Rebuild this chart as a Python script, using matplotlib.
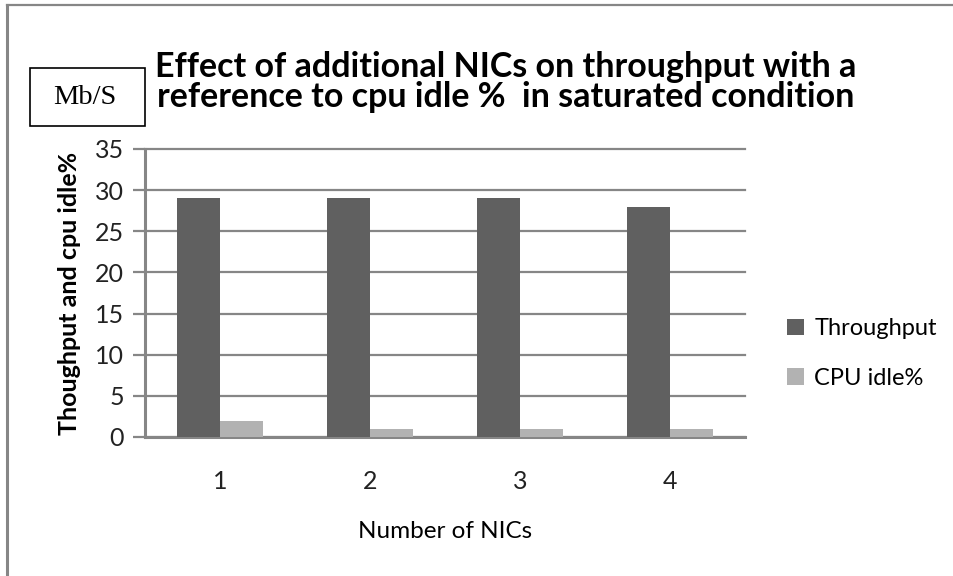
import matplotlib.pyplot as plt
import numpy as np
from matplotlib.lines import Line2D
from matplotlib.patches import Rectangle

plt.rcParams["font.family"] = ["Lato", "DejaVu Sans"]

nics = ["1", "2", "3", "4"]
throughput = [29, 29, 29, 28]
cpu_idle = [2, 1, 1, 1]
yticks = [0, 5, 10, 15, 20, 25, 30, 35]

dark = "#606060"
light = "#b2b2b2"
grid = "#868686"

fig = plt.figure(figsize=(9.54, 5.76), dpi=100)
W, H = 954, 576

# outer frame (left and top lines only)
fig.add_artist(Line2D([7.5 / W, 7.5 / W], [0, 1 - 4.5 / H], transform=fig.transFigure,
                      color=grid, lw=2.2))
fig.add_artist(Line2D([7.5 / W, 1], [1 - 4.5 / H, 1 - 4.5 / H], transform=fig.transFigure,
                      color=grid, lw=1.6))

ax = fig.add_axes([145 / W, (576 - 437) / H, 600 / W, 288 / H])
x = np.arange(len(nics))
w = 0.287
ax.bar(x - w / 2, throughput, w, color=dark, label="Throughput", zorder=3)
ax.bar(x + w / 2, cpu_idle, w, color=light, label="CPU idle%", zorder=3)

ax.set_xlim(-0.5, 3.5)
ax.set_ylim(0, 35)
ax.set_yticks(yticks)
ax.set_xticks(x)
ax.set_xticklabels(nics)
ax.yaxis.grid(True, color=grid, lw=1.6, zorder=0)
for gl in ax.get_ygridlines():
    gl.set_clip_on(False)
for s in ["top", "right"]:
    ax.spines[s].set_visible(False)
for s in ["left", "bottom"]:
    ax.spines[s].set_color(grid)
    ax.spines[s].set_linewidth(2.2)
ax.tick_params(axis="y", length=9, width=1.6, color=grid, labelsize=18, pad=6,
               labelcolor="#222222")
ax.tick_params(axis="x", length=0, labelsize=18, pad=24, labelcolor="#222222")

ax.set_ylabel("Thoughput and cpu idle%", fontsize=18, fontweight="bold", labelpad=10)
ax.set_xlabel("Number of NICs", fontsize=17.5, labelpad=20)

ax.legend(loc="center left", bbox_to_anchor=(1.035, 0.29), frameon=False, fontsize=17,
          handlelength=0.7, handleheight=0.7, labelspacing=1.2, handletextpad=0.45)

fig.text(506 / W, 1 - 67 / H, "Effect of additional NICs on throughput with a",
         ha="center", va="center", fontsize=24.5, fontweight="bold")
fig.text(506 / W, 1 - 97 / H, "reference to cpu idle %  in saturated condition",
         ha="center", va="center", fontsize=24.5, fontweight="bold")

fig.add_artist(Rectangle((30 / W, 1 - 126 / H), 115 / W, 58 / H, transform=fig.transFigure,
                         fill=False, ec="black", lw=1.2))
fig.text(85 / W, 1 - 98 / H, "Mb/S", ha="center", va="center", fontsize=20.5,
         family="Liberation Serif")

fig.savefig("out.png", dpi=100)
